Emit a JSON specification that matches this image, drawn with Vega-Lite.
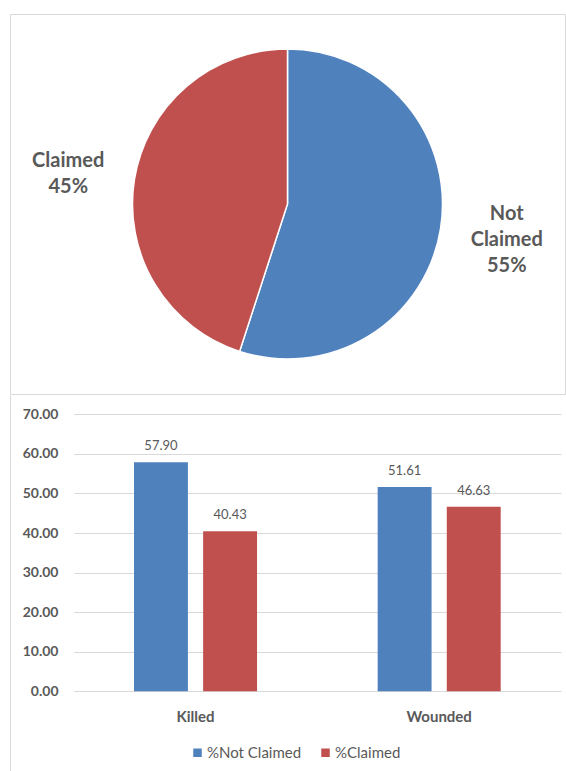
{
  "$schema": "https://vega.github.io/schema/vega-lite/v6.json",
  "padding": {"left": 9, "top": 13, "right": 0, "bottom": 0},
  "spacing": 0,
  "resolve": {"scale": {"color": "independent"}, "legend": {"color": "independent"}},
  "config": {"font": "Lato", "view": {"stroke": null}},
  "vconcat": [
    {
      "width": 555,
      "height": 380,
      "view": {"stroke": "#d9d9d9", "strokeWidth": 1},
      "data": {"values": [
        {"category": "Not Claimed", "value": 55, "label": "Not\nClaimed\n55%"},
        {"category": "Claimed", "value": 45, "label": "Claimed\n45%"}
      ]},
      "encoding": {
        "theta": {"field": "value", "type": "quantitative", "stack": true},
        "order": {"field": "value", "type": "quantitative", "sort": "descending"}
      },
      "layer": [
        {
          "mark": {"type": "arc", "outerRadius": 155, "stroke": "white", "strokeWidth": 1.5},
          "encoding": {
            "color": {"field": "category", "type": "nominal",
              "scale": {"domain": ["Not Claimed", "Claimed"], "range": ["#4F81BD", "#C0504D"]},
              "legend": null}
          }
        },
        {
          "mark": {"type": "text", "radius": 222, "dy": -8, "fontSize": 20, "fontWeight": "bold", "color": "#595959",
            "lineBreak": "\n", "lineHeight": 26, "align": "center", "baseline": "middle"},
          "encoding": {"text": {"condition": {"test": "datum.category === 'Claimed'", "field": "label", "type": "nominal"}, "value": ""}}
        },
        {
          "mark": {"type": "text", "radius": 222, "dy": -25, "fontSize": 20, "fontWeight": "bold", "color": "#595959",
            "lineBreak": "\n", "lineHeight": 26, "align": "center", "baseline": "middle"},
          "encoding": {"text": {"condition": {"test": "datum.category === 'Not Claimed'", "field": "label", "type": "nominal"}, "value": ""}}
        }
      ]
    },
    {
      "width": 551,
      "height": 378,
      "data": {"values": [
        {"group": "Killed", "series": "%Not Claimed", "value": 57.90},
        {"group": "Killed", "series": "%Claimed", "value": 40.43},
        {"group": "Wounded", "series": "%Not Claimed", "value": 51.61},
        {"group": "Wounded", "series": "%Claimed", "value": 46.63}
      ]},
      "encoding": {
        "x": {"field": "group", "type": "nominal", "sort": ["Killed", "Wounded"],
          "scale": {"range": [63.7, 551], "paddingInner": 0.495, "paddingOuter": 0.2475},
          "axis": {"title": null, "orient": "bottom", "offset": -64, "domain": false, "ticks": false,
            "labelPadding": 0, "labelAngle": 0, "labelFontSize": 15, "labelFontWeight": "bold", "labelColor": "#595959"}},
        "xOffset": {"field": "series", "type": "nominal", "sort": ["%Not Claimed", "%Claimed"],
          "scale": {"paddingInner": 0.22, "paddingOuter": 0}},
        "y": {"field": "value", "type": "quantitative",
          "scale": {"domain": [-20.65, 74.88], "nice": false, "zero": false},
          "axis": {"values": [0, 10, 20, 30, 40, 50, 60, 70], "format": ".2f", "title": null,
            "grid": true, "gridColor": "#d9d9d9", "domain": true, "domainColor": "#d9d9d9",
            "ticks": false, "labelPadding": -48, "labelAlign": "right",
            "labelFontSize": 14, "labelFontWeight": "bold", "labelColor": "#595959"}}
      },
      "layer": [
        {
          "mark": {"type": "bar"},
          "encoding": {
            "color": {"field": "series", "type": "nominal",
              "scale": {"domain": ["%Not Claimed", "%Claimed"], "range": ["#4F81BD", "#C0504D"]},
              "legend": {"orient": "none", "legendX": 180, "legendY": 350, "direction": "horizontal",
                "title": null, "symbolType": "square", "symbolSize": 72, "symbolStrokeWidth": 0,
                "labelFontSize": 15, "labelColor": "#595959", "labelOffset": 2, "columnPadding": 16, "padding": 0}}
          }
        },
        {
          "mark": {"type": "text", "baseline": "alphabetic", "dy": -12, "fontSize": 13, "color": "#595959"},
          "encoding": {"text": {"field": "value", "type": "quantitative", "format": ".2f"}}
        }
      ]
    }
  ]
}
